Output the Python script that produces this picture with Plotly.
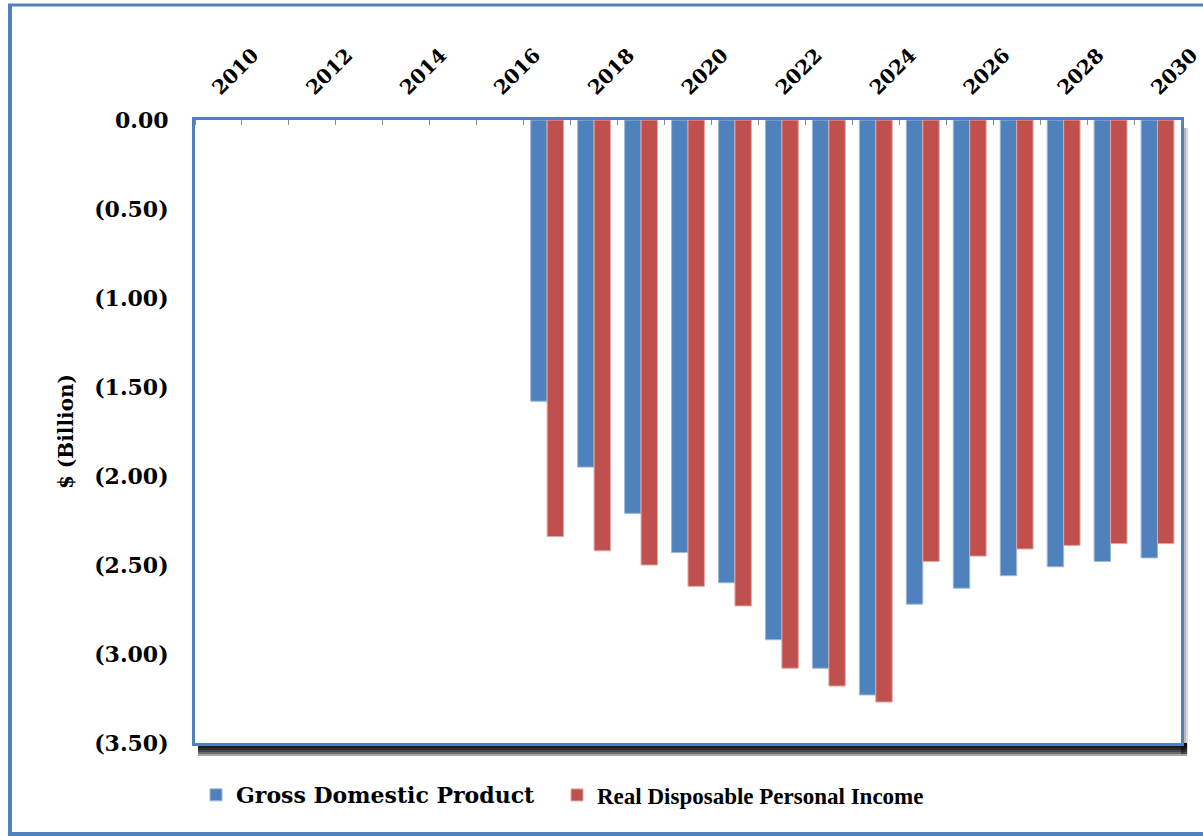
import plotly.graph_objects as go

# Annual change, $ billion
years = list(range(2017, 2031))
gdp = [-1.58, -1.95, -2.21, -2.43, -2.60, -2.92, -3.08, -3.23,
       -2.72, -2.63, -2.56, -2.51, -2.48, -2.46]
rdpi = [-2.34, -2.42, -2.50, -2.62, -2.73, -3.08, -3.18, -3.27,
        -2.48, -2.45, -2.41, -2.39, -2.38, -2.38]

tick_years = list(range(2010, 2031, 2))
y_ticks = [0, -0.5, -1.0, -1.5, -2.0, -2.5, -3.0, -3.5]
y_tick_text = ["0.00", "(0.50)", "(1.00)", "(1.50)", "(2.00)", "(2.50)", "(3.00)", "(3.50)"]

W, H = 1203, 836
L, R, T, B = 195, 22, 120, 93
PW, PH = W - L - R, H - T - B

BLUE = "#4F81BD"
RED = "#C0504D"
FONT = "DejaVu Serif"


def px(x):
    return (x - L) / PW


def py(y):
    return (H - B - y) / PH


fig = go.Figure()
fig.add_trace(go.Bar(
    x=years, y=gdp, name="Gross Domestic Product",
    marker=dict(color=BLUE, line=dict(color="#9DB8DC", width=1)),
    legend="legend", showlegend=True,
))
fig.add_trace(go.Bar(
    x=years, y=rdpi, name="Real Disposable Personal Income",
    marker=dict(color=RED, line=dict(color="#E3A6A4", width=1)),
    legend="legend2", showlegend=True,
))

shapes = []
# drop shadow under the plot frame (bottom and right strips)
for h in [13, 11, 9, 7, 5, 3]:
    shapes.append(dict(type="rect", xref="paper", yref="paper",
                       x0=px(198), x1=px(1187), y0=py(743 + h), y1=py(743),
                       fillcolor="black", opacity=0.35, line=dict(width=0),
                       layer="below"))
for w in [7, 5, 3]:
    shapes.append(dict(type="rect", xref="paper", yref="paper",
                       x0=px(1181), x1=px(1181 + w), y0=py(754), y1=py(128),
                       fillcolor="black", opacity=0.15, line=dict(width=0),
                       layer="below"))
# outer frame
shapes.append(dict(type="line", xref="paper", yref="paper",
                   x0=px(10), x1=px(10), y0=py(4), y1=py(836),
                   line=dict(color=BLUE, width=4)))
shapes.append(dict(type="line", xref="paper", yref="paper",
                   x0=px(8), x1=px(1203), y0=py(5), y1=py(5),
                   line=dict(color=BLUE, width=3)))
shapes.append(dict(type="line", xref="paper", yref="paper",
                   x0=px(8), x1=px(1203), y0=py(834), y1=py(834),
                   line=dict(color=BLUE, width=4)))

fig.update_layout(
    width=W, height=H,
    margin=dict(l=L, r=R, t=T, b=B, pad=0, autoexpand=False),
    paper_bgcolor="white", plot_bgcolor="white",
    barmode="group", bargap=0.3, bargroupgap=0,
    showlegend=True,
    font=dict(family=FONT, size=20, color="black", weight="bold"),
    shapes=shapes,
    legend=dict(x=px(196), y=py(795), xanchor="left", yanchor="middle",
                bgcolor="rgba(0,0,0,0)",
                font=dict(family=FONT, size=22, color="black", weight="bold")),
    legend2=dict(x=px(557), y=py(795), xanchor="left", yanchor="middle",
                 bgcolor="rgba(0,0,0,0)",
                 font=dict(family="Liberation Serif", size=23, color="black", weight="bold")),
    xaxis=dict(
        side="top", range=[2009.5, 2030.5], automargin=False,
        tickmode="array", tickvals=tick_years, ticktext=[str(v) for v in tick_years],
        tickangle=-45, ticks="", ticklabeloverflow="allow",
        ticklabelstandoff=10, ticklabelshift=-5,
        tickfont=dict(family=FONT, size=20, color="black", weight="bold"),
        showgrid=False, zeroline=False,
        showline=True, mirror=True, linecolor=BLUE, linewidth=3,
        minor=dict(tickmode="linear", tick0=2009.5, dtick=1, ticks="inside",
                   ticklen=5, tickwidth=1, tickcolor="#8C8C8C", showgrid=False),
    ),
    yaxis=dict(
        range=[-3.5, 0], automargin=False,
        tickmode="array", tickvals=y_ticks, ticktext=y_tick_text,
        ticks="", ticklabelstandoff=19,
        tickfont=dict(family=FONT, size=22, color="black", weight="bold"),
        showgrid=False, zeroline=False,
        showline=True, mirror=True, linecolor=BLUE, linewidth=3,
        title=dict(text="$ (Billion)", standoff=16,
                   font=dict(family=FONT, size=20, color="black", weight="bold")),
    ),
)

fig.write_html("out.html")
